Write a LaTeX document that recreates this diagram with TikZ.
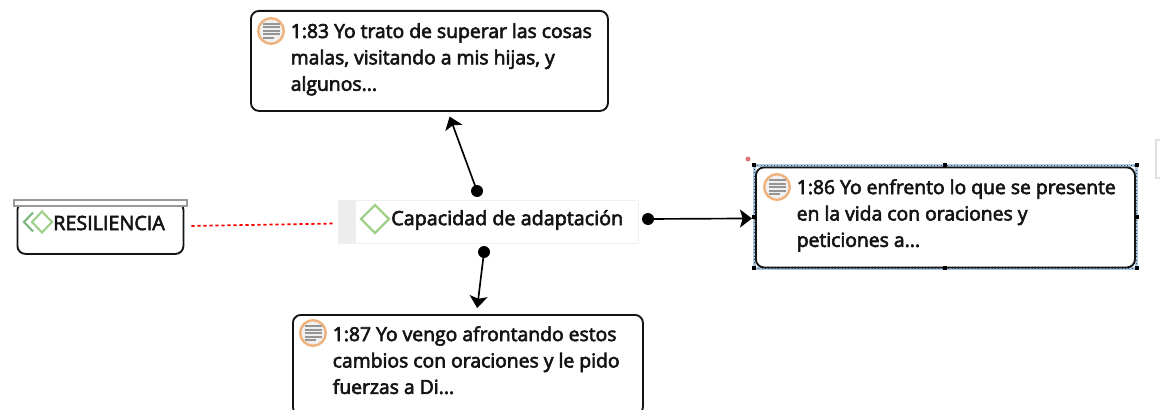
\documentclass[tikz,border=0pt]{standalone}
\usepackage{fontspec}
\setmainfont{Open Sans}
\newcommand{\heavyon}{\special{pdf:code 2 Tr 0.45 w}}
\newcommand{\heavyoff}{\special{pdf:code 0 Tr 0.4 w}}
\usetikzlibrary{arrows.meta,calc}
\definecolor{ink}{HTML}{141414}
\definecolor{ring}{HTML}{EFB27C}
\definecolor{notegray}{HTML}{959595}
\definecolor{leaf}{HTML}{9FD18B}
\definecolor{leafdark}{HTML}{7FB77E}
\definecolor{selblue}{HTML}{A9C6E3}
\tikzset{
  noteBox/.style={draw=ink,line width=1.4pt,rounded corners=6pt,fill=white,anchor=north west,inner sep=0pt},
  noteText/.style={anchor=north west,align=left,inner sep=0pt,text=ink,font=\fontsize{14.5pt}{19.8pt}\selectfont,execute at begin node=\heavyon,execute at end node=\heavyoff},
  termText/.style={anchor=west,inner sep=0pt,text=ink,font=\fontsize{14.8pt}{18pt}\selectfont,execute at begin node=\heavyon,execute at end node=\heavyoff},
  dotEnd/.style={circle,fill=black,inner sep=0pt,minimum size=9pt},
  link/.style={line width=1.25pt,black,-{Stealth[length=9pt,width=13.5pt,inset=2pt]}},
  handle/.style={fill=black,inner sep=0pt,minimum size=3pt},
  noteicon/.pic={
    \draw[ring,line width=1.8pt,fill=white!94!black] (0,0) circle[radius=9.6pt];
    \foreach \yy/\xe in {-7/8.5,-3.5/8.5,0/8.5,3.5/8.5,7/3}{
      \draw[notegray,line width=1.5pt] (-8.5,\yy) -- (\xe,\yy);
    }
  }
}
\begin{document}
\begin{tikzpicture}[x=0.75pt,y=-0.75pt]
\useasboundingbox (0,0) rectangle (1160,410);
\clip (0,0) rectangle (1160,410);

% right-edge fragment
\draw[draw=black!12,line width=0.8pt] (1160,140) -- (1156,140) -- (1156,178) -- (1160,178);

% notes
\node[noteBox,minimum width=357*0.75pt,minimum height=100*0.75pt] (top) at (250,10) {};
\pic at (271,31) {noteicon};
\node[noteText] (toptext) at (290.5,23) {1:83 Yo trato de superar las cosas\\malas, visitando a mis hijas, y\\algunos...};

\node[noteBox,minimum width=350*0.75pt,minimum height=100*0.75pt] (bottom) at (292,314) {};
\pic at (313,333) {noteicon};
\node[noteText] (bottomtext) at (332.5,326) {1:87 Yo vengo afrontando estos\\cambios con oraciones y le pido\\fuerzas a Di...};

% selected note
\draw[selblue,line width=1.6pt] (754.5,165.5) rectangle (1136.5,268.5);
\draw[black!70,line width=0.5pt,dotted] (754.5,165.5) rectangle (1136.5,268.5);
\node[noteBox,minimum width=379*0.75pt,minimum height=100*0.75pt] (right) at (755,166.5) {};
\pic at (777,187) {noteicon};
\node[noteText] (righttext) at (796.5,179) {1:86 Yo enfrento lo que se presente\\en la vida con oraciones y\\peticiones a...};
\foreach \hx/\hy [count=\i] in {754/165,945/165,1137/165,754/217,1137/217,754/268,945/268,1137/268}{
  \node[handle] (h\i) at (\hx,\hy) {};
}
\node[circle,fill=red!55,draw=red!35!black!60,line width=0.3pt,inner sep=0pt,minimum size=3.2pt] (rot) at (748,159) {};

% code node
\node[fill=white,draw=black!6,line width=0.8pt,anchor=north west,inner sep=0pt,minimum width=300*0.75pt,minimum height=43*0.75pt] (cap) at (338,200) {};
\fill[black!7] (338,200) rectangle (356,243);
\draw[leaf,line width=1.6pt] (375,205) -- (389,219) -- (375,233) -- (361,219) -- cycle;
\node[termText] (captext) at (391,220) {Capacidad de adaptación};

% group node
\node[noteBox,minimum width=166*0.75pt,minimum height=52*0.75pt] (res) at (16.5,201) {};
\node[fill=white,draw=black!40,line width=1.3pt,anchor=north west,inner sep=0pt,minimum width=173*0.75pt,minimum height=6*0.75pt] (resbar) at (13,199) {};
\draw[leaf,line width=1.6pt] (42,211.5) -- (52,222) -- (42,232.5) -- (32,222) -- cycle;
\draw[leafdark,line width=1.6pt] (33,212.5) -- (24,222) -- (33,231.5);
\node[termText] (restext) at (53,223) {RESILIENCIA};

% connectors
\draw[red,line width=1.3pt,dash pattern=on 2.4pt off 2.1pt] ($(res.east)+(7,-2)$) -- ($(cap.west)+(-4,1.5)$);

\node[dotEnd] (d1) at (477,191) {};
\node[dotEnd] (d2) at (484,252) {};
\node[dotEnd] (d3) at (648,219) {};
\draw[link,shorten >=5*0.75pt] (d1.center) -- ($(top.south)+(18.5,0)$);
\draw[link,shorten >=6*0.75pt] (d2.center) -- ($(bottom.north)+(8.5,0)$);
\draw[link,shorten >=3*0.75pt] (d3.center) -- ($(right.west)+(0,1)$);
\end{tikzpicture}
\end{document}
